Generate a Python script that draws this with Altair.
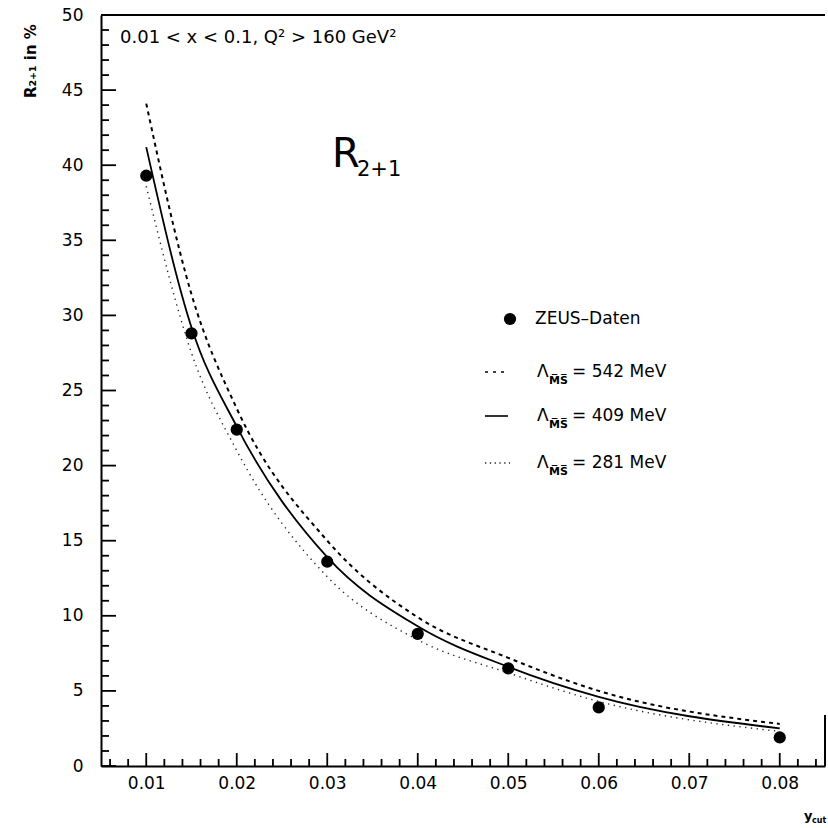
import altair as alt
import pandas as pd

# ---- data ----
ycut = [0.01, 0.015, 0.02, 0.03, 0.04, 0.05, 0.06, 0.08]
zeus = [39.3, 28.8, 22.4, 13.6, 8.8, 6.5, 3.9, 1.9]
lam542 = [44.1, 31.4, 23.8, 15.0, 9.9, 7.2, 5.0, 2.8]
lam409 = [41.2, 29.2, 22.6, 13.9, 9.3, 6.6, 4.6, 2.5]
lam281 = [38.6, 27.5, 21.0, 12.6, 8.4, 6.2, 4.3, 2.3]

x_ticks = [0.01, 0.02, 0.03, 0.04, 0.05, 0.06, 0.07, 0.08]
x_minor = [0.006, 0.008, 0.012, 0.014, 0.016, 0.018, 0.022, 0.024, 0.026, 0.028,
           0.032, 0.034, 0.036, 0.038, 0.042, 0.044, 0.046, 0.048, 0.052, 0.054,
           0.056, 0.058, 0.062, 0.064, 0.066, 0.068, 0.072, 0.074, 0.076, 0.078,
           0.082, 0.084]
y_ticks = [0, 5, 10, 15, 20, 25, 30, 35, 40, 45, 50]
y_minor = [1, 2, 3, 4, 6, 7, 8, 9, 11, 12, 13, 14, 16, 17, 18, 19, 21, 22, 23, 24,
           26, 27, 28, 29, 31, 32, 33, 34, 36, 37, 38, 39, 41, 42, 43, 44, 46, 47, 48, 49]

X_MIN, X_MAX, Y_MIN, Y_MAX = 0.005, 0.085, 0, 50
W, H = 724, 751
FONT = "DejaVu Sans"

xs = alt.Scale(domain=[X_MIN, X_MAX], nice=False, zero=False)
ys = alt.Scale(domain=[Y_MIN, Y_MAX], nice=False)

pts = pd.DataFrame({"x": ycut, "y": zeus})
curves = pd.DataFrame({
    "x": ycut * 3,
    "y": lam542 + lam409 + lam281,
    "s": ["542"] * 8 + ["409"] * 8 + ["281"] * 8,
})

xaxis = alt.Axis(values=x_ticks, format=".2f", title=None, ticks=False, tickSize=0,
                 grid=False, labelFontSize=17, labelFont=FONT, labelPadding=9,
                 domainColor="black", domainWidth=2, labelColor="black")
yaxis = alt.Axis(values=y_ticks, format="d", title=None, ticks=False, tickSize=0,
                 grid=False, labelFontSize=17, labelFont=FONT, labelPadding=18,
                 domainColor="black", domainWidth=2, labelColor="black")

base_pts = alt.Chart(pts).mark_circle(size=150, color="black", opacity=1).encode(
    x=alt.X("x:Q", scale=xs, axis=xaxis),
    y=alt.Y("y:Q", scale=ys, axis=yaxis),
)

# inward ticks, one small layer per tick (same form as the top frame rule)
px_y = (Y_MAX - Y_MIN) / H
tick_layers = []
for vals, length in ((y_ticks, 15), (y_minor, 8)):
    for v in vals:
        tick_layers.append(
            alt.Chart(pd.DataFrame({"tyv": [v]})).mark_rule(color="black", strokeWidth=1.8).encode(
                y=alt.Y("tyv:Q", scale=ys), x=alt.value(0), x2=alt.value(length)))
for vals, length in ((x_ticks, 13), (x_minor, 7)):
    for v in vals:
        tick_layers.append(
            alt.Chart(pd.DataFrame({"txv": [v], "ty0": [Y_MIN], "ty1": [Y_MIN + length * px_y]}))
            .mark_rule(color="black", strokeWidth=1.8).encode(
                x=alt.X("txv:Q", scale=xs),
                y=alt.Y("ty0:Q", scale=ys), y2="ty1:Q"))

def curve(name, dash, width, color="black"):
    kw = dict(color=color, strokeWidth=width, interpolate="monotone")
    if dash:
        kw["strokeDash"] = dash
    return alt.Chart(curves).transform_filter(alt.datum.s == name).mark_line(**kw).encode(
        x=alt.X("x:Q", scale=xs), y=alt.Y("y:Q", scale=ys))

c542 = curve("542", [4, 4], 2)
c409 = curve("409", None, 1.8)
c281 = curve("281", [1.3, 4.5], 1.4, "#222")

top = alt.Chart(pd.DataFrame({"tv": [Y_MAX]})).mark_rule(color="black", strokeWidth=2).encode(
    y=alt.Y("tv:Q", scale=ys), x=alt.value(0), x2=alt.value(W))
right = alt.Chart(pd.DataFrame({"rv": [0], "rv2": [3.4]})).mark_rule(color="black", strokeWidth=2).encode(
    y=alt.Y("rv:Q", scale=ys), y2="rv2:Q", x=alt.value(W))

def txt(t, x, y, size, align="left", baseline="alphabetic", angle=0, weight="normal"):
    kw = dict(text=t, fontSize=size, font=FONT, align=align, baseline=baseline,
              color="black", fontWeight=weight)
    if angle:
        kw["angle"] = angle
    return alt.Chart(pd.DataFrame({"a": [0]})).mark_text(**kw).encode(
        x=alt.value(x), y=alt.value(y))

texts = [
    txt("0.01 < x < 0.1, Q\u00b2 > 160 GeV\u00b2", 19, 23, 18, baseline="middle"),
    txt("R", 231, 152, 40),
    txt("2+1", 256, 161, 21),
    txt("R\u2082\u208a\u2081  in %", -70, 83, 15, baseline="middle", angle=270, weight="bold"),
    txt("y", 703, 805, 13, weight="bold"),
    txt("cut", 711, 808, 8, weight="bold"),
    txt("ZEUS\u2013Daten", 434, 304, 17, baseline="middle"),
]

rows = [("542", 357), ("409", 401), ("281", 448)]
for val, yy in rows:
    texts.append(txt("\u039b", 436, yy, 17, baseline="middle"))
    texts.append(txt("M\u0305S\u0305", 448, yy + 9, 11, baseline="middle", weight="bold"))
    texts.append(txt("= " + val + " MeV", 471, yy, 17, baseline="middle"))

leg_pt = alt.Chart(pd.DataFrame({"a": [0]})).mark_circle(size=150, color="black", opacity=1).encode(
    x=alt.value(409), y=alt.value(304))
leg_dash = alt.Chart(pd.DataFrame({"a": [0]})).mark_rule(color="black", strokeWidth=1.6, strokeDash=[3, 5]).encode(
    x=alt.value(384), x2=alt.value(406), y=alt.value(357))
leg_solid = alt.Chart(pd.DataFrame({"a": [0]})).mark_rule(color="black", strokeWidth=1.6).encode(
    x=alt.value(384), x2=alt.value(407), y=alt.value(401))
leg_dot = alt.Chart(pd.DataFrame({"a": [0]})).mark_rule(color="#222", strokeWidth=1.3, strokeDash=[1.3, 3.5]).encode(
    x=alt.value(384), x2=alt.value(409), y=alt.value(448))

chart = alt.layer(
    base_pts, top, right, *tick_layers, c281, c542, c409,
    leg_pt, leg_dash, leg_solid, leg_dot, *texts
).properties(
    width=W, height=H,
    autosize=alt.AutoSizeParams(type="none"),
    padding={"left": 101, "top": 15, "right": 3, "bottom": 62},
    background="white",
).configure_view(strokeWidth=0)

chart.save("out.html", embed_options={"renderer": "svg", "actions": False})
